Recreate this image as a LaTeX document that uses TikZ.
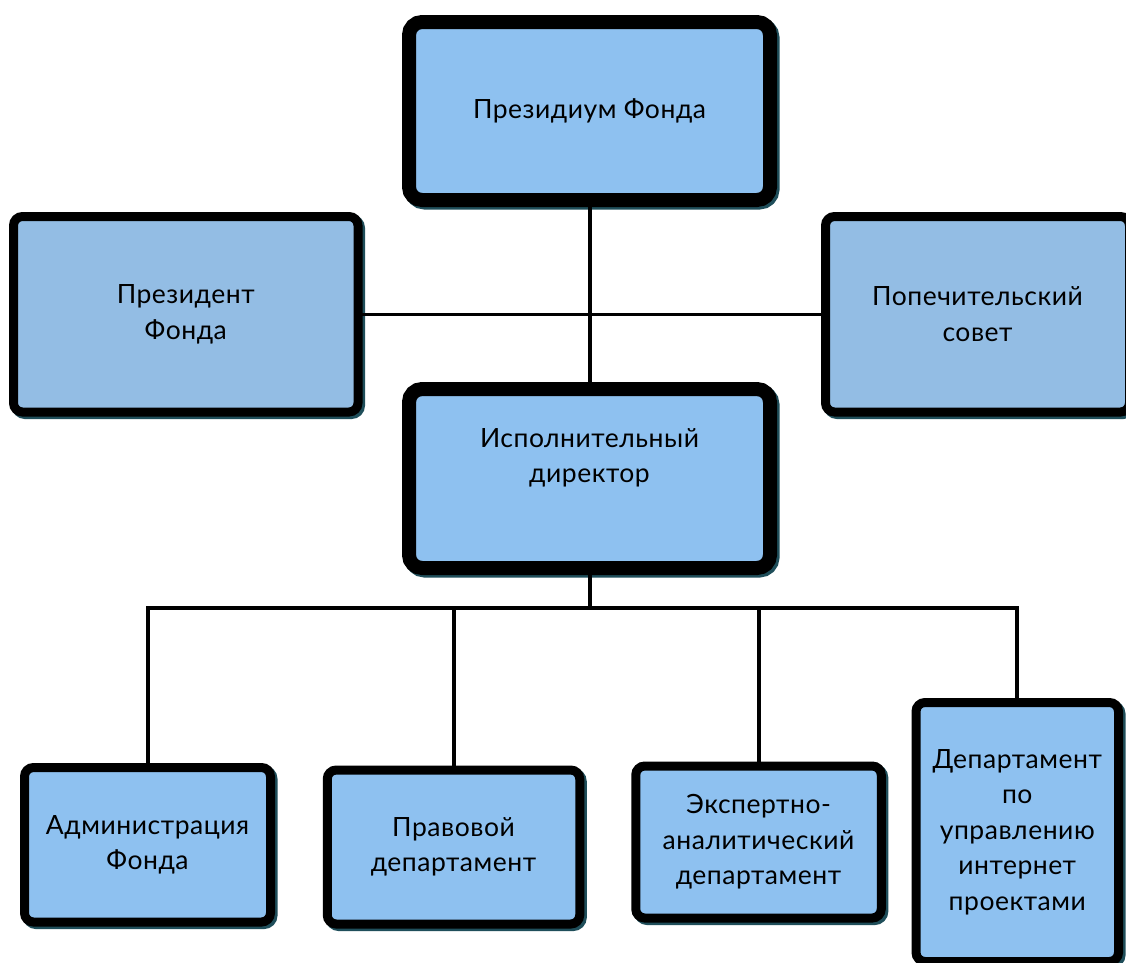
\documentclass[tikz,border=0pt]{standalone}
\usepackage{fontspec}
\setmainfont{Lato}[LetterSpace=2]
\definecolor{fillA}{HTML}{8EC1F0}
\definecolor{fillB}{HTML}{93BDE4}
\definecolor{shadowc}{HTML}{1F4E5A}
\tikzset{
  basebox/.style={rectangle, draw=black, outer sep=0pt, inner sep=0pt,
    align=center, font=\fontsize{26.5}{35.5}\selectfont,
    preaction={draw=shadowc, transform canvas={xshift=2.5pt,yshift=-2.5pt}}},
  thickbox/.style={basebox, line width=14pt, rounded corners=13pt, fill=fillA},
  thinbox/.style={basebox, line width=9pt, rounded corners=9pt, fill=fillA},
  sidebox/.style={thinbox, fill=fillB},
  conn/.style={draw=black, line width=4pt},
}
\begin{document}
\begin{tikzpicture}[x=1pt,y=-1pt]
\useasboundingbox (0,0) rectangle (1126,962);
\clip (0,0) rectangle (1126,962);
\fill[white] (0,0) rectangle (1126,962);
\coordinate (bus) at (589.5,608);
\coordinate (topc) at (589.5,111);
\coordinate (execc) at (589.5,478.5);
\coordinate (presc) at (185.75,314.25);
\coordinate (popc) at (977.5,314.25);
% boxes
\node[thickbox, minimum width=361pt, minimum height=178pt] (top) at (topc) {Президиум Фонда};
\node[thickbox, minimum width=361pt, minimum height=179pt] (exec) at (execc) {Исполнительный\\директор\\\strut};
\node[sidebox, minimum width=344.5pt, minimum height=195.5pt] (pres) at (presc) {Президент\\Фонда};
\node[sidebox, minimum width=304pt, minimum height=195.5pt] (pop) at (popc) {Попечительский\\совет};
\node[thinbox, minimum width=246pt, minimum height=154.5pt] (adm) at (147.5,844.75) {Администрация\\Фонда};
\node[thinbox, minimum width=252.5pt, minimum height=154pt] (prav) at (453.5,847) {Правовой\\департамент};
\node[thinbox, minimum width=245.5pt, minimum height=152pt] (exp) at (758.5,842) {Экспертно-\\аналитический\\департамент};
\node[thinbox, minimum width=202.5pt, minimum height=259pt] (dep) at (1017.25,832) {Департамент\\по\\управлению\\интернет\\проектами};
% connectors
\draw[conn] (top.south) -- (exec.north);
\draw[conn, line width=3.5pt] (pres.east) -- (pop.west);
\draw[conn] (exec.south) -- (bus);
\draw[conn] (adm.north) -- (adm.north |- bus) -- (dep.north |- bus) -- (dep.north);
\draw[conn] (prav.north) -- (prav.north |- bus);
\draw[conn] (exp.north) -- (exp.north |- bus);
\end{tikzpicture}
\end{document}
